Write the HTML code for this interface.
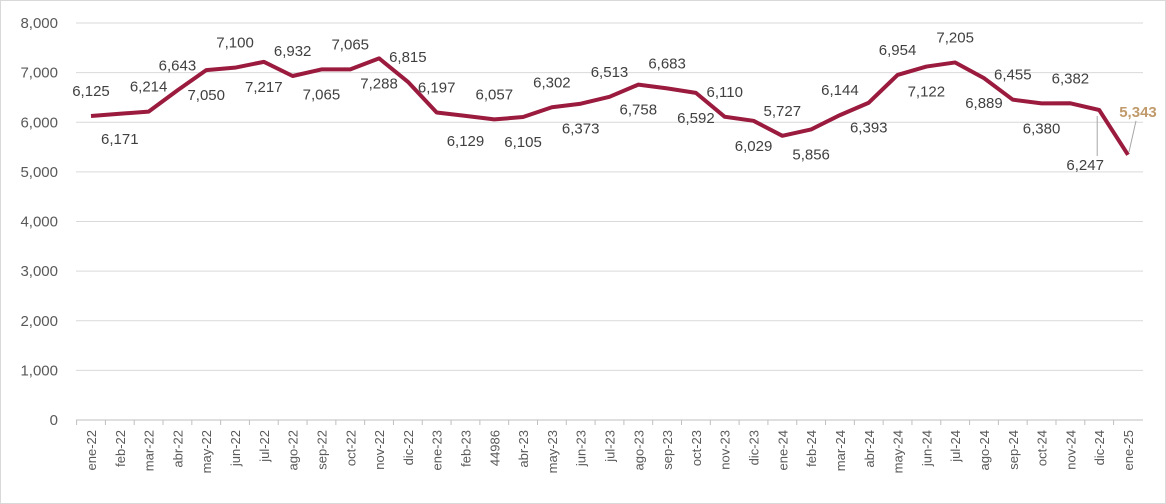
<!DOCTYPE html>
<html><head><meta charset="utf-8"><style>
body{margin:0;background:#fff}
svg{display:block;font-family:"Liberation Sans",Arial,sans-serif}
</style></head><body>
<svg id="chart" width="1166" height="504" viewBox="0 0 1166 504">
<rect x="0.5" y="0.5" width="1165" height="503" fill="#fff" stroke="#d9d9d9"/>
<g id="grid"></g><g id="xlab"></g><g id="ylab"></g><g id="line"></g><g id="vals"></g>
</svg>
<script>
const categories=["ene-22","feb-22","mar-22","abr-22","may-22","jun-22","jul-22","ago-22","sep-22","oct-22","nov-22","dic-22","ene-23","feb-23","44986","abr-23","may-23","jun-23","jul-23","ago-23","sep-23","oct-23","nov-23","dic-23","ene-24","feb-24","mar-24","abr-24","may-24","jun-24","jul-24","ago-24","sep-24","oct-24","nov-24","dic-24","ene-25"];
const values=[6125,6171,6214,6643,7050,7100,7217,6932,7065,7065,7288,6815,6197,6129,6057,6105,6302,6373,6513,6758,6683,6592,6110,6029,5727,5856,6144,6393,6954,7122,7205,6889,6455,6380,6382,6247,5343];
const labelSide=[1,-1,1,1,-1,1,-1,1,-1,1,-1,1,1,-1,1,-1,1,-1,1,-1,1,-1,1,-1,1,-1,1,-1,1,-1,1,-1,1,-1,1,-1,1];
const yTicks=[0,1000,2000,3000,4000,5000,6000,7000,8000];
const NS="http://www.w3.org/2000/svg";
const x0=91,x1=1128,yTop=23,yBot=420,yMax=8000;
const xs=i=>x0+(x1-x0)*i/(categories.length-1);
const ys=v=>yBot-(yBot-yTop)*v/yMax;
function mk(t,a,p){const e=document.createElementNS(NS,t);for(const k in a)e.setAttribute(k,a[k]);p.appendChild(e);return e;}
const fmt=v=>v.toLocaleString("en-US");
const grid=document.getElementById("grid"),yl=document.getElementById("ylab"),xl=document.getElementById("xlab");
yTicks.forEach(t=>{
 const l=mk("line",{x1:76,x2:1143,y1:ys(t),y2:ys(t),stroke:t===0?"#bfbfbf":"#d9d9d9","stroke-width":1},grid);
 
 
 const tx=mk("text",{x:58,y:ys(t)+5,"text-anchor":"end","font-size":15,fill:"#595959"},yl);
 tx.textContent=fmt(t);
 
 
});
categories.forEach((c,i)=>{
 const x=xs(i);
 const tk=mk("line",{x1:x-(x1-x0)/72,x2:x-(x1-x0)/72,y1:420,y2:425,stroke:"#bfbfbf"},grid);
 
 
 const t=mk("text",{x:0,y:0,"text-anchor":"end","font-size":13,fill:"#595959",transform:`translate(${x+5},430) rotate(-90)`},xl);
 t.textContent=c;
 
 
});
const pts=values.map((v,i)=>xs(i)+","+ys(v)).join(" ");
const pl=mk("polyline",{points:pts,fill:"none",stroke:"#9b1b3e","stroke-width":4,"stroke-linejoin":"round"},document.getElementById("line"));


const vg=document.getElementById("vals");
values.forEach((v,i)=>{
 const last=i===values.length-1;
 let x=xs(i),y=ys(v)+(labelSide[i]>0?-20:30);
 if(i===values.length-2){x-=14;y=ys(v)+60;
  const ld=mk("line",{x1:x+12,y1:y-14,x2:xs(i)-2,y2:ys(v)+6,stroke:"#a6a6a6"},vg);
  }
 if(last){x+=10;y=ys(v)-38;
  const ld=mk("line",{x1:x-2,y1:y+4,x2:xs(i)+1,y2:ys(v)-3,stroke:"#a6a6a6"},vg);
  }
 const t=mk("text",{x:x,y:y,"text-anchor":"middle","font-size":15,fill:last?"#c09a6b":"#404040","font-weight":last?"bold":"normal"},vg);
 t.textContent=fmt(v);
 
 
});
</script>
</body></html>
